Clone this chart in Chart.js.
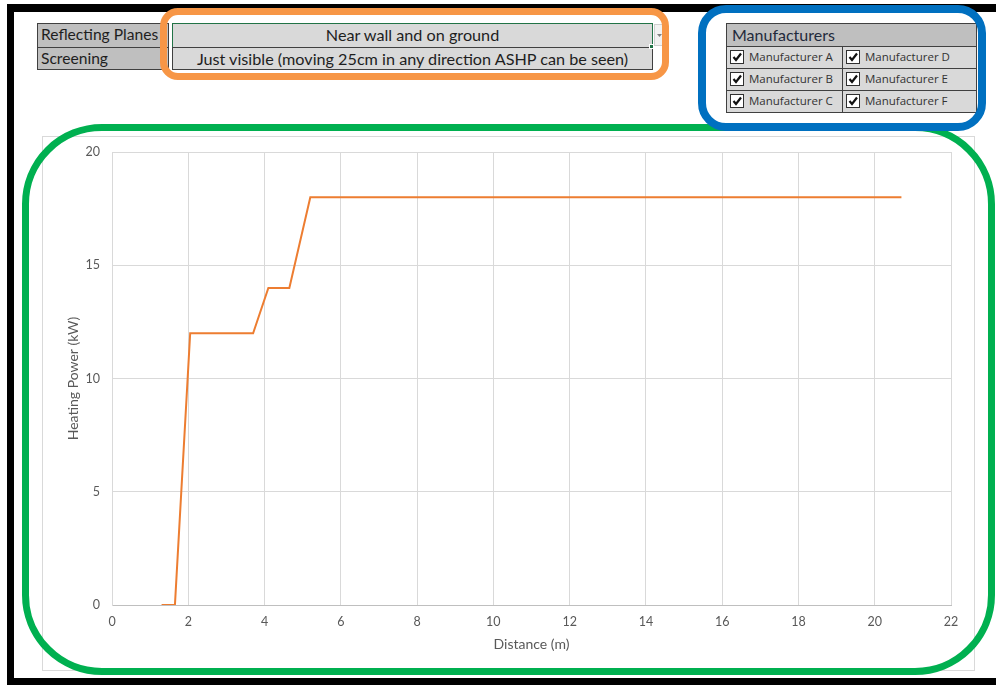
<!DOCTYPE html>
<html>
<head>
<meta charset="utf-8">
<title>Heating Power vs Distance</title>
<script src="https://cdn.jsdelivr.net/npm/chart.js@4.4.1/dist/chart.umd.min.js"></script>
<style>
  html, body { margin: 0; padding: 0; background: #ffffff; }
  body { width: 996px; height: 685px; position: relative; overflow: hidden; font-family: Lato, "Open Sans", sans-serif; }
  .abs { position: absolute; box-sizing: border-box; }
  .frame { background: #000; }
  .cell { position: absolute; box-sizing: border-box; border: 1px solid #404040; color: #1e1e1e; font-size: 15.6px; white-space: nowrap; overflow: hidden; }
  .lab { background: #bfbfbf; padding-left: 3px; line-height: 21px; }
  .val { background: #d9d9d9; text-align: center; line-height: 21px; font-size: 16.2px; }
  .mcell { position: absolute; box-sizing: border-box; border: 1px solid #404040; background: #d9d9d9; font-family: "Open Sans", sans-serif; font-size: 11.5px; color: #333; line-height: 20px; white-space: nowrap; }
  .cb { position: absolute; top: 3px; left: 3px; width: 14px; height: 14px; box-sizing: border-box; border: 1px solid #303030; background: #fff; }
  .cb svg { position: absolute; left: 0; top: 0; }
  .mtext { position: absolute; left: 22px; top: 0; }
  .ring { position: absolute; box-sizing: border-box; background: transparent; }
  #chartBox { position: absolute; left: 42px; top: 136px; width: 933px; height: 535px; border: 1px solid #d9d9d9; box-sizing: border-box; background: #fff; }
  #chartBox canvas { position: absolute; left: 0; top: 0; }
</style>
</head>
<body>
<!-- sheet frame -->
<div class="abs frame" style="left:7px; top:4px; width:989px; height:8px;"></div>
<div class="abs frame" style="left:7px; top:4px; width:7px; height:681px;"></div>
<div class="abs frame" style="left:7px; top:678px; width:989px; height:7px;"></div>

<!-- selection table -->
<div class="cell lab" style="left:37px; top:23px; width:132px; height:25px;">Reflecting Planes</div>
<div class="cell lab" style="left:37px; top:47px; width:132px; height:23px;">Screening</div>
<div class="cell val" style="left:172px; top:23px; width:481px; height:25px; border:1.5px solid #217346;">Near wall and on ground</div>
<div class="cell val" style="left:172px; top:47px; width:481px; height:23px;">Just visible (moving 25cm in any direction ASHP can be seen)</div>
<div class="abs" style="left:649px; top:44px; width:5px; height:5px; background:#217346; border:1px solid #fff;"></div>
<div class="abs" style="left:654px; top:24px; width:11px; height:22px; background:#f2f2f2; border:1px solid #d0d0d0;">
  <svg width="9" height="20" style="position:absolute;left:0;top:0"><polygon points="2,9 7,9 4.5,12" fill="#808080"/></svg>
</div>

<!-- manufacturer filter -->
<div class="mcell" style="left:726px; top:23px; width:251px; height:24px; background:#bfbfbf; font-family:Lato, sans-serif; font-size:16px; color:#1f2a3c; padding-left:5px; line-height:22px;">Manufacturers</div>
<div id="mfr"></div>

<!-- chart -->
<div id="chartBox"><canvas id="chart" width="931" height="533"></canvas></div>

<!-- highlight rings -->
<div class="ring" style="left:22px; top:124px; width:973px; height:551px; border:7px solid #00b050; border-radius:80px;"></div>
<div class="ring" style="left:160px; top:8px; width:509px; height:72px; border:7px solid #f79646; border-radius:18px;"></div>
<div class="ring" style="left:698px; top:5px; width:288px; height:126px; border:8px solid #0070c0; border-radius:28px;"></div>

<script>
// Heating power available at each distance from the receptor
const distance = [1.3, 1.65, 2.05, 3.7, 4.1, 4.65, 5.2, 20.7];
const power = [0, 0, 12, 12, 14, 14, 18, 18];

// Axis ticks
const xTicks = [0, 2, 4, 6, 8, 10, 12, 14, 16, 18, 20, 22];
const yTicks = [0, 5, 10, 15, 20];

// Manufacturer checkboxes (two columns)
const manufacturers = ["Manufacturer A", "Manufacturer B", "Manufacturer C",
                       "Manufacturer D", "Manufacturer E", "Manufacturer F"];

(function buildFilter() {
  const host = document.getElementById('mfr');
  const colX = [726, 842];
  const colW = [117, 135];
  manufacturers.forEach((name, i) => {
    const col = Math.floor(i / 3), row = i % 3;
    const d = document.createElement('div');
    d.className = 'mcell';
    d.style.left = colX[col] + 'px';
    d.style.top = (46 + row * 22) + 'px';
    d.style.width = colW[col] + 'px';
    d.style.height = '23px';
    d.innerHTML = '<span class="cb"><svg width="12" height="12"><polyline points="2.5,6 5,9 10,2.5" fill="none" stroke="#111" stroke-width="2.2"/></svg></span>' +
                  '<span class="mtext"></span>';
    d.querySelector('.mtext').textContent = name;
    host.appendChild(d);
  });
})();

const points = distance.map((x, i) => ({ x: x, y: power[i] }));
const tickFont = { family: 'Lato, sans-serif', size: 12.5 };
const titleFont = { family: 'Lato, sans-serif', size: 14 };

// Fixed axis sizes so the plot area sits at a set place in the canvas
function fixX(s) { s.height = 65; s.paddingLeft = 0; s.paddingRight = 0; }
function fixY(s) { s.width = 69; s.paddingTop = 0; s.paddingBottom = 0; }

new Chart(document.getElementById('chart'), {
  type: 'scatter',
  data: {
    datasets: [{
      data: points,
      showLine: true,
      borderColor: '#ed7d31',
      backgroundColor: '#ed7d31',
      borderWidth: 2,
      pointRadius: 0,
      tension: 0
    }]
  },
  options: {
    responsive: false,
    animation: false,
    events: [],
    layout: { padding: { left: 0, top: 15, right: 23, bottom: 0 } },
    plugins: { legend: { display: false }, tooltip: { enabled: false } },
    scales: {
      x: {
        type: 'linear',
        min: xTicks[0],
        max: xTicks[xTicks.length - 1],
        afterBuildTicks: s => { s.ticks = xTicks.map(v => ({ value: v })); },
        afterFit: fixX,
        grid: { color: '#d9d9d9', drawTicks: false },
        border: { color: '#bfbfbf' },
        ticks: { color: '#595959', font: tickFont, padding: 9, maxRotation: 0 },
        title: { display: true, text: 'Distance (m)', color: '#595959', font: titleFont, padding: { top: 0, bottom: 17 } }
      },
      y: {
        type: 'linear',
        min: yTicks[0],
        max: yTicks[yTicks.length - 1],
        afterBuildTicks: s => { s.ticks = yTicks.map(v => ({ value: v })); },
        afterFit: fixY,
        grid: { color: '#d9d9d9', drawTicks: false },
        border: { color: '#d9d9d9' },
        ticks: { color: '#595959', font: tickFont, padding: 12 },
        title: { display: true, text: 'Heating Power (kW)', color: '#595959', font: titleFont, padding: { top: 22, bottom: 0 } }
      }
    }
  }
});
</script>
</body>
</html>
